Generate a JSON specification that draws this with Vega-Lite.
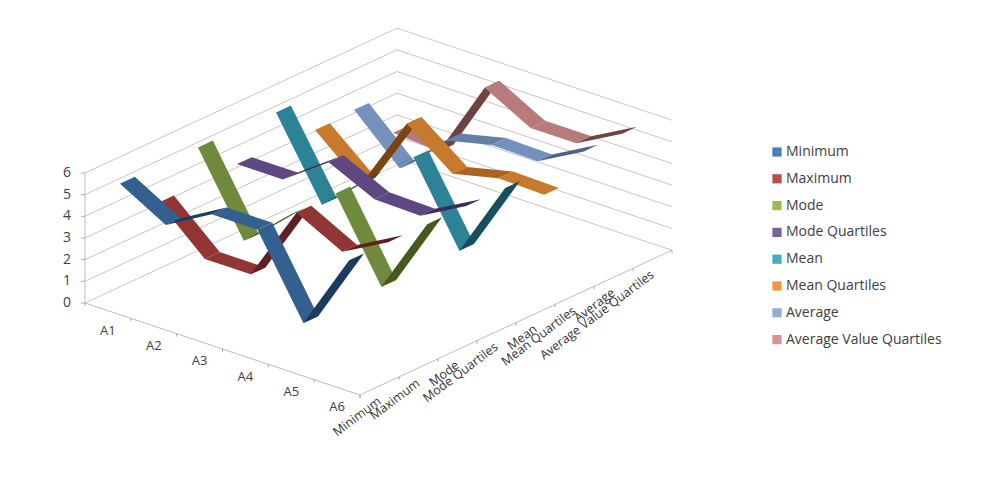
{"$schema":"https://vega.github.io/schema/vega-lite/v6.json","width":1004,"height":491,"padding":0,"autosize":{"type":"none"},"background":"white","config":{"view":{"stroke":null}},
"datasets":{
"ribbons":[
{"series":"Average Value Quartiles","category":"A1","value":2.1},{"series":"Average Value Quartiles","category":"A2","value":1.95},{"series":"Average Value Quartiles","category":"A3","value":5.6},{"series":"Average Value Quartiles","category":"A4","value":4.45},{"series":"Average Value Quartiles","category":"A5","value":4.45},{"series":"Average Value Quartiles","category":"A6","value":5.6},
{"series":"Average","category":"A1","value":4},{"series":"Average","category":"A2","value":2},{"series":"Average","category":"A3","value":4},{"series":"Average","category":"A4","value":4.5},{"series":"Average","category":"A5","value":4.45},{"series":"Average","category":"A6","value":5.6},
{"series":"Mean Quartiles","category":"A1","value":3.9},{"series":"Mean Quartiles","category":"A2","value":2.1},{"series":"Mean Quartiles","category":"A3","value":5.6},{"series":"Mean Quartiles","category":"A4","value":4},{"series":"Mean Quartiles","category":"A5","value":4.5},{"series":"Mean Quartiles","category":"A6","value":4.45},
{"series":"Mean","category":"A1","value":5.55},{"series":"Mean","category":"A2","value":2},{"series":"Mean","category":"A3","value":3.9},{"series":"Mean","category":"A4","value":5.6},{"series":"Mean","category":"A5","value":2},{"series":"Mean","category":"A6","value":5.6},
{"series":"Mode Quartiles","category":"A1","value":4},{"series":"Mode Quartiles","category":"A2","value":4},{"series":"Mode Quartiles","category":"A3","value":5.5},{"series":"Mode Quartiles","category":"A4","value":4.5},{"series":"Mode Quartiles","category":"A5","value":4.45},{"series":"Mode Quartiles","category":"A6","value":5.6},
{"series":"Mode","category":"A1","value":5.6},{"series":"Mode","category":"A2","value":2},{"series":"Mode","category":"A3","value":3.9},{"series":"Mode","category":"A4","value":5.6},{"series":"Mode","category":"A5","value":2},{"series":"Mode","category":"A6","value":5.6},
{"series":"Maximum","category":"A1","value":3.9},{"series":"Maximum","category":"A2","value":2},{"series":"Maximum","category":"A3","value":2},{"series":"Maximum","category":"A4","value":5.55},{"series":"Maximum","category":"A5","value":4.45},{"series":"Maximum","category":"A6","value":5.6},
{"series":"Minimum","category":"A1","value":5.6},{"series":"Minimum","category":"A2","value":4.4},{"series":"Minimum","category":"A3","value":5.6},{"series":"Minimum","category":"A4","value":5.6},{"series":"Minimum","category":"A5","value":2},{"series":"Minimum","category":"A6","value":5.6}
],
"levels":[{"level":0},{"level":1},{"level":2},{"level":3},{"level":4},{"level":5},{"level":6}],
"cats":[{"category":"A1"},{"category":"A2"},{"category":"A3"},{"category":"A4"},{"category":"A5"},{"category":"A6"}],
"sers":[{"series":"Minimum"},{"series":"Maximum"},{"series":"Mode"},{"series":"Mode Quartiles"},{"series":"Mean"},{"series":"Mean Quartiles"},{"series":"Average"},{"series":"Average Value Quartiles"}]
},
"layer":[
{"data":{"name":"levels"},"transform":[{"calculate":"['L','B','R']","as":"pt"},{"flatten":["pt"]},{"calculate":"datum.pt=='R'?6:0","as":"cc"},{"calculate":"datum.pt=='L'?0:8","as":"ss"},{"calculate":"datum.pt=='L'?0:datum.pt=='B'?1:2","as":"ord"},{"calculate":"85+45.83*datum.cc+39*datum.ss","as":"px"},{"calculate":"303+15.33*datum.cc-18.1*datum.ss-21.67*datum.level","as":"py"}],
"mark":{"type":"line","color":"#c8c6c8","strokeWidth":1},
"encoding":{"x":{"field":"px","type":"quantitative","scale":{"domain":[0,1004],"nice":false,"zero":false},"axis":null},"y":{"field":"py","type":"quantitative","scale":{"domain":[491,0],"nice":false,"zero":false},"axis":null},"detail":{"field":"level"},"order":{"field":"ord"}}},
{"data":{"values":[{"pt":"L"},{"pt":"F"},{"pt":"R"}]},"transform":[{"calculate":"datum.pt=='L'?0:6","as":"cc"},{"calculate":"datum.pt=='R'?8:0","as":"ss"},{"calculate":"85+45.83*datum.cc+39*datum.ss","as":"px"},{"calculate":"303+15.33*datum.cc-18.1*datum.ss","as":"py"}],
"mark":{"type":"line","color":"#bdbdbd","strokeWidth":1},
"encoding":{"x":{"field":"px","type":"quantitative","scale":{"domain":[0,1004],"nice":false,"zero":false},"axis":null},"y":{"field":"py","type":"quantitative","scale":{"domain":[491,0],"nice":false,"zero":false},"axis":null}}},
{"data":{"values":[{"n":0},{"n":1},{"n":2},{"n":3},{"n":4},{"n":5},{"n":6}]},"transform":[{"calculate":"85+45.83*datum.n","as":"px"},{"calculate":"303+15.33*datum.n","as":"py"},{"calculate":"datum.py+3","as":"py2"}],
"mark":{"type":"rule","color":"#a8a8a8","strokeWidth":1},
"encoding":{"x":{"field":"px","type":"quantitative","scale":{"domain":[0,1004],"nice":false,"zero":false},"axis":null},"y":{"field":"py","type":"quantitative","scale":{"domain":[491,0],"nice":false,"zero":false},"axis":null},"y2":{"field":"py2"}}},
{"data":{"values":[{"n":0},{"n":1},{"n":2},{"n":3},{"n":4},{"n":5},{"n":6},{"n":7},{"n":8}]},"transform":[{"calculate":"360+39*datum.n","as":"px"},{"calculate":"395-18.1*datum.n","as":"py"},{"calculate":"datum.py+3","as":"py2"}],
"mark":{"type":"rule","color":"#a8a8a8","strokeWidth":1},
"encoding":{"x":{"field":"px","type":"quantitative","scale":{"domain":[0,1004],"nice":false,"zero":false},"axis":null},"y":{"field":"py","type":"quantitative","scale":{"domain":[491,0],"nice":false,"zero":false},"axis":null},"y2":{"field":"py2"}}},
{"data":{"name":"levels"},"transform":[{"calculate":"303-21.67*datum.level","as":"py"},{"calculate":"85","as":"px"},{"calculate":"81","as":"px0"}],
"mark":{"type":"rule","color":"#a8a8a8","strokeWidth":1},
"encoding":{"x":{"field":"px0","type":"quantitative","scale":{"domain":[0,1004],"nice":false,"zero":false},"axis":null},"x2":{"field":"px"},"y":{"field":"py","type":"quantitative","scale":{"domain":[491,0],"nice":false,"zero":false},"axis":null}}},
{"data":{"values":[{"level":0},{"level":6}]},"transform":[{"calculate":"85","as":"px"},{"calculate":"303-21.67*datum.level","as":"py"}],
"mark":{"type":"line","color":"#bdbdbd","strokeWidth":1},
"encoding":{"x":{"field":"px","type":"quantitative","scale":{"domain":[0,1004],"nice":false,"zero":false},"axis":null},"y":{"field":"py","type":"quantitative","scale":{"domain":[491,0],"nice":false,"zero":false},"axis":null}}},
{"data":{"name":"ribbons"},"transform":[
{"calculate":"indexof(['A1','A2','A3','A4','A5','A6'],datum.category)","as":"c"},
{"calculate":"indexof(['Minimum','Maximum','Mode','Mode Quartiles','Mean','Mean Quartiles','Average','Average Value Quartiles'],datum.series)","as":"s"},
{"window":[{"op":"lead","field":"value","as":"next"}],"groupby":["series"],"sort":[{"field":"c","order":"ascending"}]},
{"filter":"datum.c<5"},
{"calculate":"[1,2,3,4]","as":"vertex"},{"flatten":["vertex"]},
{"calculate":"datum.series+'|'+(datum.next-datum.value>0.8?'d':datum.next-datum.value>0.1?'m':'t')","as":"shade"},
{"calculate":"datum.series+datum.category","as":"seg"},
{"calculate":"(datum.vertex==1||datum.vertex==4)?datum.c+0.5:datum.c+1.5","as":"cc"},
{"calculate":"(datum.vertex==1||datum.vertex==2)?datum.s+0.31:datum.s+0.69","as":"ss"},
{"calculate":"(datum.vertex==1||datum.vertex==4)?datum.value:datum.next","as":"vv"},
{"calculate":"85+45.83*datum.cc+39*datum.ss","as":"px"},
{"calculate":"303+15.33*datum.cc-18.1*datum.ss-21.67*datum.vv","as":"py"}],
"mark":{"type":"line","filled":true},
"encoding":{"x":{"field":"px","type":"quantitative","scale":{"domain":[0,1004],"nice":false,"zero":false},"axis":null},"y":{"field":"py","type":"quantitative","scale":{"domain":[491,0],"nice":false,"zero":false},"axis":null},"detail":{"field":"seg"},"order":{"field":"vertex"},
"color":{"field":"shade","type":"nominal","scale":{
"domain":["Minimum","Maximum","Mode","Mode Quartiles","Mean","Mean Quartiles","Average","Average Value Quartiles","Minimum|t","Maximum|t","Mode|t","Mode Quartiles|t","Mean|t","Mean Quartiles|t","Average|t","Average Value Quartiles|t","Minimum|m","Maximum|m","Mode|m","Mode Quartiles|m","Mean|m","Mean Quartiles|m","Average|m","Average Value Quartiles|m","Minimum|d","Maximum|d","Mode|d","Mode Quartiles|d","Mean|d","Mean Quartiles|d","Average|d","Average Value Quartiles|d"],
"range":["#4a7ebb","#be4b48","#98b954","#7d60a0","#46aac4","#f69240","#93aed6","#d69391","#33608f","#913634","#6f8a3c","#5f4781","#2e8296","#c77a2e","#7690bd","#b67b7a","#2a5080","#7d2d2b","#5c7531","#51396f","#276f80","#a86420","#6580a8","#9c6564","#1b3a5f","#5e2020","#47591f","#3d2b5c","#174f5f","#7a4412","#4e6389","#6e4443"]},
"legend":{"values":["Minimum","Maximum","Mode","Mode Quartiles","Mean","Mean Quartiles","Average","Average Value Quartiles"],"title":null,"orient":"none","legendX":770,"legendY":145,"symbolType":"square","symbolSize":85,"symbolStrokeWidth":0,"labelFont":"Open Sans","labelFontSize":14,"labelColor":"#404040","rowPadding":12.8,"labelOffset":2,"labelLimit":300}}}},
{"data":{"name":"levels"},"transform":[{"calculate":"71","as":"px"},{"calculate":"303-21.67*datum.level","as":"py"}],
"mark":{"type":"text","font":"Open Sans","fontSize":14,"color":"#404040","align":"right","baseline":"middle"},
"encoding":{"x":{"field":"px","type":"quantitative","scale":{"domain":[0,1004],"nice":false,"zero":false},"axis":null},"y":{"field":"py","type":"quantitative","scale":{"domain":[491,0],"nice":false,"zero":false},"axis":null},"text":{"field":"level","type":"nominal"}}},
{"data":{"name":"cats"},"transform":[{"calculate":"indexof(['A1','A2','A3','A4','A5','A6'],datum.category)+0.5","as":"cc"},{"calculate":"85+45.83*datum.cc","as":"px"},{"calculate":"303+15.33*datum.cc","as":"py"}],
"mark":{"type":"text","font":"Open Sans","fontSize":13,"color":"#404040","align":"center","baseline":"middle","dy":20},
"encoding":{"x":{"field":"px","type":"quantitative","scale":{"domain":[0,1004],"nice":false,"zero":false},"axis":null},"y":{"field":"py","type":"quantitative","scale":{"domain":[491,0],"nice":false,"zero":false},"axis":null},"text":{"field":"category","type":"nominal"}}},
{"data":{"name":"sers"},"transform":[{"calculate":"indexof(['Minimum','Maximum','Mode','Mode Quartiles','Mean','Mean Quartiles','Average','Average Value Quartiles'],datum.series)+0.053","as":"ss"},{"calculate":"85+45.83*6.38+39*datum.ss","as":"px"},{"calculate":"303+15.33*6.38-18.1*datum.ss","as":"py"}],
"mark":{"type":"text","font":"Open Sans","fontSize":12.5,"color":"#333333","align":"right","baseline":"middle","angle":323},
"encoding":{"x":{"field":"px","type":"quantitative","scale":{"domain":[0,1004],"nice":false,"zero":false},"axis":null},"y":{"field":"py","type":"quantitative","scale":{"domain":[491,0],"nice":false,"zero":false},"axis":null},"text":{"field":"series","type":"nominal"}}}
]}
